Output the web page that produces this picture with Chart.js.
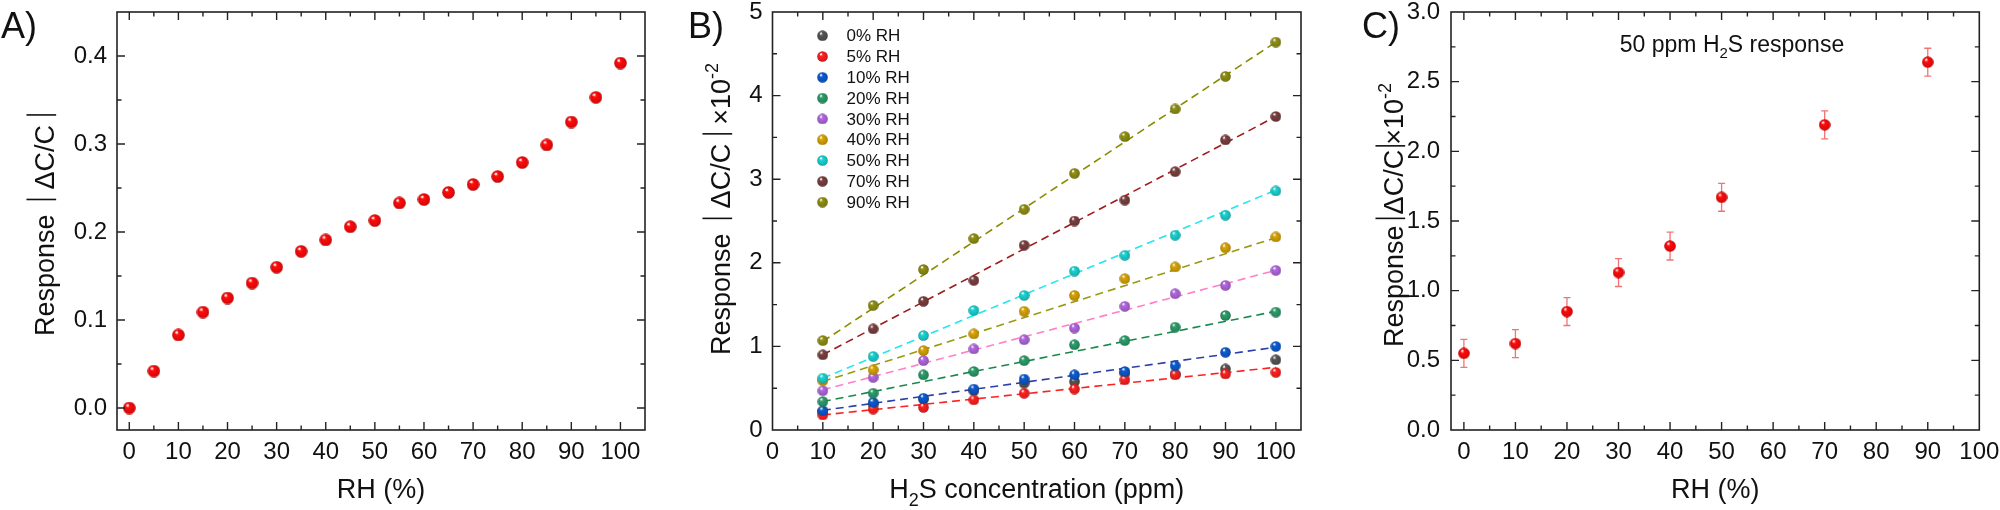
<!DOCTYPE html>
<html>
<head>
<meta charset="utf-8">
<title>RH response</title>
<script src="https://cdn.jsdelivr.net/npm/chart.js@4.4.1/dist/chart.umd.min.js"></script>
<style>
  html, body { margin: 0; padding: 0; background: #fff; }
  #wrap { position: relative; width: 2000px; height: 510px; }
  canvas { position: absolute; top: 0; }
</style>
</head>
<body>
<div id="wrap">
  <canvas id="chartA" width="680" height="510" style="left:0;width:680px;height:510px"></canvas>
  <canvas id="chartB" width="660" height="510" style="left:680px;width:660px;height:510px"></canvas>
  <canvas id="chartC" width="660" height="510" style="left:1340px;width:660px;height:510px"></canvas>
</div>
<script>
// ---- data ----
// A) response vs RH
const rhA = [0, 5, 10, 15, 20, 25, 30, 35, 40, 45, 50, 55, 60, 65, 70, 75, 80, 85, 90, 95, 100];
const responseA = [0.000, 0.042, 0.083, 0.109, 0.125, 0.142, 0.160, 0.178, 0.191, 0.206, 0.213,
  0.233, 0.237, 0.245, 0.254, 0.263, 0.279, 0.299, 0.325, 0.353, 0.392];
const xTicksA = [0, 10, 20, 30, 40, 50, 60, 70, 80, 90, 100];
const yTicksA = [0, 0.1, 0.2, 0.3, 0.4];

// B) response (x10^-2) vs H2S concentration for each RH
const ppmB = [10, 20, 30, 40, 50, 60, 70, 80, 90, 100];
const labelsB = ["0% RH", "5% RH", "10% RH", "20% RH", "30% RH", "40% RH", "50% RH", "70% RH", "90% RH"];
const rh0 = [0.22, 0.31, 0.37, 0.47, 0.56, 0.58, 0.68, 0.67, 0.73, 0.84];
const rh5 = [0.18, 0.25, 0.27, 0.36, 0.44, 0.49, 0.60, 0.66, 0.67, 0.69];
const rh10 = [0.23, 0.33, 0.38, 0.49, 0.61, 0.66, 0.70, 0.77, 0.93, 1.00];
const rh20 = [0.34, 0.44, 0.66, 0.70, 0.83, 1.02, 1.07, 1.23, 1.37, 1.41];
const rh30 = [0.47, 0.63, 0.83, 0.97, 1.08, 1.22, 1.48, 1.63, 1.73, 1.91];
const rh40 = [0.59, 0.72, 0.95, 1.15, 1.42, 1.61, 1.81, 1.95, 2.18, 2.31];
const rh50 = [0.62, 0.88, 1.13, 1.43, 1.61, 1.90, 2.09, 2.33, 2.57, 2.86];
const rh70 = [0.90, 1.21, 1.54, 1.79, 2.21, 2.50, 2.75, 3.09, 3.47, 3.75];
const rh90 = [1.07, 1.49, 1.92, 2.29, 2.64, 3.07, 3.51, 3.84, 4.23, 4.64];
// linear fit lines, value at 10 ppm and at 100 ppm (0% RH has none)
const fitAt10 = [null, 0.18, 0.235, 0.34, 0.48, 0.58, 0.62, 0.90, 1.06];
const fitAt100 = [null, 0.75, 0.99, 1.42, 1.91, 2.30, 2.87, 3.75, 4.64];
const xTicksB = [0, 10, 20, 30, 40, 50, 60, 70, 80, 90, 100];
const yTicksB = [0, 1, 2, 3, 4, 5];

// C) 50 ppm response vs RH with error bars
const rhC = [0, 10, 20, 30, 40, 50, 70, 90];
const responseC = [0.55, 0.62, 0.85, 1.13, 1.32, 1.67, 2.19, 2.64];
const errC = [0.10, 0.10, 0.10, 0.10, 0.10, 0.10, 0.10, 0.10];
const xTicksC = [0, 10, 20, 30, 40, 50, 60, 70, 80, 90, 100];
const yTicksC = [0, 0.5, 1.0, 1.5, 2.0, 2.5, 3.0];

// ---- styles ----
const FAMILY = '"Liberation Sans", Arial, sans-serif';
const INK = "#111";
const ballColors = ["#555555", "#ff2020", "#0b5bd3", "#2a9d6a", "#b266e0", "#d9a300", "#19d3d3", "#7b3f3f", "#8f8f12"];
const fitColors = [null, "#ff2020", "#2a3fa8", "#178a4a", "#ff80c8", "#9a9a10", "#1ee8f0", "#a01c1c", "#8b8b00"];

function hexRgb(h) {
  const n = parseInt(h.slice(1), 16);
  return [(n >> 16) & 255, (n >> 8) & 255, n & 255];
}
function mix(h, target, t) {
  const a = hexRgb(h), b = hexRgb(target);
  return `rgb(${a.map((v, i) => Math.round(v + (b[i] - v) * t)).join(",")})`;
}

// shaded sphere used as point style
function makeBall(color, size) {
  const c = document.createElement("canvas");
  c.width = size;
  c.height = size;
  const g = c.getContext("2d");
  const r = size / 2;
  const grad = g.createRadialGradient(r * 0.72, r * 0.62, 0, r, r, r);
  grad.addColorStop(0, mix(color, "#ffffff", 0.6));
  grad.addColorStop(0.3, color);
  grad.addColorStop(0.85, mix(color, "#000000", 0.15));
  grad.addColorStop(1, mix(color, "#000000", 0.35));
  g.fillStyle = grad;
  g.beginPath();
  g.arc(r, r, r - 0.2, 0, Math.PI * 2);
  g.fill();
  g.fillStyle = "rgba(255,255,255,0.85)";
  g.beginPath();
  g.ellipse(r * 0.72, r * 0.58, r * 0.24, r * 0.17, -0.6, 0, Math.PI * 2);
  g.fill();
  return c;
}

function font(size) {
  return `${size}px ${FAMILY}`;
}

// rich text: strings, {gap}, {bar}, {sub}, {sup}
function richWidth(ctx, items, size) {
  let w = 0;
  items.forEach((it) => {
    if (typeof it === "string") {
      ctx.font = font(size);
      w += ctx.measureText(it).width;
    } else if (it.gap) {
      w += it.gap;
    } else if (it.bar) {
      w += 2;
    } else {
      ctx.font = font(Math.round(size * 0.66));
      w += ctx.measureText(it.sub || it.sup).width;
    }
  });
  return w;
}

function drawRich(ctx, x, y, rot, items, size) {
  ctx.save();
  ctx.translate(x, y);
  ctx.rotate(rot);
  ctx.fillStyle = INK;
  ctx.strokeStyle = INK;
  ctx.textAlign = "left";
  ctx.textBaseline = "alphabetic";
  let pos = -richWidth(ctx, items, size) / 2;
  items.forEach((it) => {
    if (typeof it === "string") {
      ctx.font = font(size);
      ctx.fillText(it, pos, 0);
      pos += ctx.measureText(it).width;
    } else if (it.gap) {
      pos += it.gap;
    } else if (it.bar) {
      ctx.lineWidth = 1.6;
      ctx.beginPath();
      ctx.moveTo(pos + 1, size * 0.08);
      ctx.lineTo(pos + 1, -size * 1.02);
      ctx.stroke();
      pos += 2;
    } else {
      const s = Math.round(size * 0.66);
      ctx.font = font(s);
      const dy = it.sub ? size * 0.28 : -size * 0.45;
      ctx.fillText(it.sub || it.sup, pos, dy);
      pos += ctx.measureText(it.sub || it.sup).width;
    }
  });
  ctx.restore();
}

// frame with inward ticks on all four sides
const framePlugin = {
  id: "frame",
  afterDraw(chart, args, opts) {
    const { ctx, chartArea: a } = chart;
    const xs = chart.scales.x, ys = chart.scales.y;
    ctx.save();
    ctx.strokeStyle = "#222";
    ctx.lineWidth = 1.6;
    ctx.strokeRect(a.left, a.top, a.right - a.left, a.bottom - a.top);
    ctx.lineWidth = 1.4;
    const eps = 1e-6;
    const walk = (scale, minor, major, fn) => {
      const start = Math.ceil((scale.min - eps) / minor) * minor;
      for (let v = start; v <= scale.max + eps; v += minor) {
        const isMajor = Math.abs(v / major - Math.round(v / major)) < 1e-4;
        const p = scale.getPixelForValue(v);
        fn(p, isMajor ? 8 : 4.5);
      }
    };
    ctx.beginPath();
    walk(xs, opts.xMinor, opts.xMajor, (p, len) => {
      if (p <= a.left + 1 || p >= a.right - 1) return;
      ctx.moveTo(p, a.bottom); ctx.lineTo(p, a.bottom - len);
      ctx.moveTo(p, a.top); ctx.lineTo(p, a.top + len);
    });
    walk(ys, opts.yMinor, opts.yMajor, (p, len) => {
      if (p <= a.top + 1 || p >= a.bottom - 1) return;
      ctx.moveTo(a.left, p); ctx.lineTo(a.left + len, p);
      ctx.moveTo(a.right, p); ctx.lineTo(a.right - len, p);
    });
    ctx.stroke();
    ctx.restore();
  },
};

// titles, panel letters and notes
const textPlugin = {
  id: "texts",
  afterDraw(chart, args, opts) {
    const { ctx, chartArea: a } = chart;
    ctx.save();
    ctx.fillStyle = INK;
    ctx.font = font(36);
    ctx.textBaseline = "alphabetic";
    ctx.textAlign = "left";
    ctx.fillText(opts.letter, opts.letterX, 38);
    ctx.restore();
    drawRich(ctx, (a.left + a.right) / 2, 498, 0, opts.xTitle, 27);
    drawRich(ctx, opts.yTitleX, opts.yTitleY, -Math.PI / 2, opts.yTitle, 27);
    if (opts.note) {
      drawRich(ctx, opts.note.x, opts.note.y, 0, opts.note.items, 23);
    }
  },
};

// legend for panel B
const legendPlugin = {
  id: "ballLegend",
  afterDraw(chart, args, opts) {
    if (!opts.show) return;
    const { ctx, chartArea: a } = chart;
    ctx.save();
    ctx.font = font(17);
    ctx.fillStyle = INK;
    ctx.textBaseline = "middle";
    ctx.textAlign = "left";
    labelsB.forEach((lab, i) => {
      const y = 35.7 + i * 20.8;
      const img = legendBalls[i];
      ctx.drawImage(img, a.left + 50 - img.width / 2, y - img.height / 2);
      ctx.fillText(lab, a.left + 74, y + 1);
    });
    ctx.restore();
  },
};

// error bars for panel C
const errorBarPlugin = {
  id: "errorBars",
  beforeDatasetsDraw(chart, args, opts) {
    if (!opts.show) return;
    const { ctx } = chart;
    const xs = chart.scales.x, ys = chart.scales.y;
    ctx.save();
    ctx.strokeStyle = "rgba(236,70,70,0.75)";
    ctx.lineWidth = 1.3;
    ctx.beginPath();
    rhC.forEach((rh, i) => {
      const x = xs.getPixelForValue(rh);
      const yTop = ys.getPixelForValue(responseC[i] + errC[i]);
      const yBot = ys.getPixelForValue(responseC[i] - errC[i]);
      ctx.moveTo(x, yTop); ctx.lineTo(x, yBot);
      ctx.moveTo(x - 3.5, yTop); ctx.lineTo(x + 3.5, yTop);
      ctx.moveTo(x - 3.5, yBot); ctx.lineTo(x + 3.5, yBot);
    });
    ctx.stroke();
    ctx.restore();
  },
};

const ballsB = ballColors.map((c) => makeBall(c, 11));
const legendBalls = ballColors.map((c) => makeBall(c, 11));
const redBallA = makeBall("#ff0a0a", 13);
const redBallC = makeBall("#ff0a0a", 12);

function axis(min, max, ticks, fmt, size, isX, pad) {
  return {
    type: "linear",
    min: min,
    max: max,
    afterBuildTicks: (s) => {
      s.ticks = ticks.map((v) => ({ value: v }));
    },
    afterFit: (s) => {
      if (isX) {
        s.height = size;
        s.paddingLeft = 0;
        s.paddingRight = 0;
      } else {
        s.width = size;
        s.paddingTop = 0;
        s.paddingBottom = 0;
      }
    },
    grid: { display: false, drawTicks: false },
    border: { display: false },
    ticks: {
      font: { size: 24, family: FAMILY },
      color: INK,
      padding: pad,
      maxRotation: 0,
      autoSkip: false,
      callback: fmt,
    },
  };
}

const one = (v) => v.toFixed(1);
const whole = (v) => String(v);
const response = ["Response", { gap: 14 }, { bar: true }, { gap: 9 }, "ΔC/C", { gap: 9 }, { bar: true }];

function baseOptions(padRight, xAxis, yAxis, extra) {
  return {
    responsive: false,
    animation: false,
    events: [],
    layout: { padding: { top: 12, right: padRight, left: 0, bottom: 0 } },
    plugins: Object.assign({ legend: { display: false }, tooltip: { enabled: false } }, extra),
    scales: { x: xAxis, y: yAxis },
  };
}

// ---- panel A ----
new Chart(document.getElementById("chartA"), {
  type: "scatter",
  data: {
    datasets: [{
      data: rhA.map((x, i) => ({ x: x, y: responseA[i] })),
      pointStyle: redBallA,
      pointRadius: 6.5,
    }],
  },
  options: baseOptions(35,
    axis(-2.5, 105, xTicksA, whole, 80, true, 8),
    axis(-0.025, 0.45, yTicksA, one, 117, false, 10),
    {
      frame: { xMinor: 5, xMajor: 10, yMinor: 0.05, yMajor: 0.1 },
      texts: { letter: "A)", letterX: 1, xTitle: ["RH (%)"], yTitle: response, yTitleX: 54, yTitleY: 225 },
    }),
  plugins: [framePlugin, textPlugin],
});

// ---- panel B ----
const seriesB = [rh0, rh5, rh10, rh20, rh30, rh40, rh50, rh70, rh90];
const datasetsB = [];
seriesB.forEach((vals, i) => {
  datasetsB.push({
    type: "scatter",
    data: ppmB.map((x, j) => ({ x: x, y: vals[j] })),
    pointStyle: ballsB[i],
    pointRadius: 5.5,
    order: 50 - i,
  });
  if (fitAt10[i] !== null) {
    datasetsB.push({
      type: "line",
      data: [{ x: 10, y: fitAt10[i] }, { x: 100, y: fitAt100[i] }],
      borderColor: fitColors[i],
      borderWidth: 1.6,
      borderDash: [8, 5],
      pointRadius: 0,
      fill: false,
      order: 100,
    });
  }
});

new Chart(document.getElementById("chartB"), {
  type: "scatter",
  data: { datasets: datasetsB },
  options: baseOptions(39,
    axis(0, 105, xTicksB, whole, 80, true, 8),
    axis(0, 5, yTicksB, whole, 92.5, false, 10),
    {
      frame: { xMinor: 5, xMajor: 10, yMinor: 0.5, yMajor: 1 },
      ballLegend: { show: true },
      texts: {
        letter: "B)", letterX: 8,
        xTitle: ["H", { sub: "2" }, "S concentration (ppm)"],
        yTitle: response.concat([{ gap: 8 }, "×10", { sup: "-2" }]),
        yTitleX: 50, yTitleY: 209,
      },
    }),
  plugins: [framePlugin, textPlugin, legendPlugin],
});

// ---- panel C ----
new Chart(document.getElementById("chartC"), {
  type: "scatter",
  data: {
    datasets: [{
      data: rhC.map((x, i) => ({ x: x, y: responseC[i] })),
      pointStyle: redBallC,
      pointRadius: 6,
    }],
  },
  options: baseOptions(20.7,
    axis(-2.5, 100, xTicksC, whole, 80, true, 8),
    axis(0, 3, yTicksC, one, 111, false, 11),
    {
      frame: { xMinor: 5, xMajor: 10, yMinor: 0.25, yMajor: 0.5 },
      errorBars: { show: true },
      texts: {
        letter: "C)", letterX: 22,
        xTitle: ["RH (%)"],
        yTitle: ["Response", { gap: 6 }, { bar: true }, { gap: 3 }, "ΔC/C", { gap: 3 }, { bar: true }, "×10", { sup: "-2" }],
        yTitleX: 63, yTitleY: 215,
        note: { x: 392, y: 52, items: ["50 ppm H", { sub: "2" }, "S response"] },
      },
    }),
  plugins: [framePlugin, textPlugin, errorBarPlugin],
});
</script>
</body>
</html>
